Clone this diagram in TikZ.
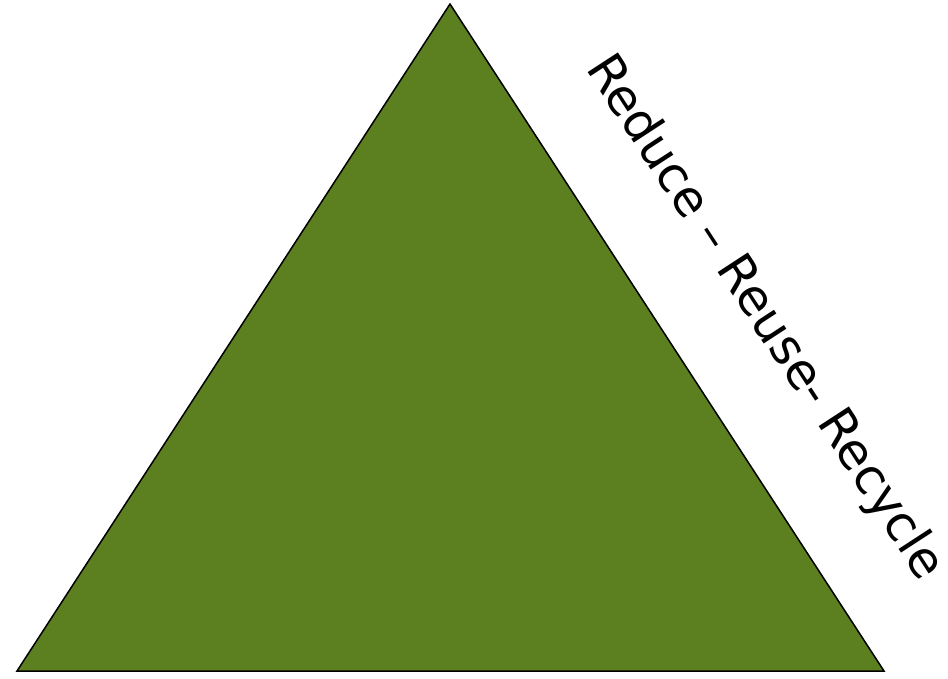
\documentclass[tikz,border=0pt]{standalone}
\usepackage{fontspec}
\setmainfont{DejaVu Sans}
\definecolor{leaf}{RGB}{92,127,31}
\begin{document}
\begin{tikzpicture}[x=1pt,y=-1pt]
\useasboundingbox (0,0) rectangle (948,678);
\coordinate (apex) at (450,4);
\coordinate (bl) at (17,671);
\coordinate (br) at (884,671);
\draw[fill=leaf,line width=1.5pt,line join=miter] (apex) -- (br) -- (bl) -- cycle;
\node[rotate=-56.9,font=\fontsize{49.5}{58}\selectfont,inner sep=0pt] (lbl) at (764,318) {Reduce – Reuse- Recycle};
\end{tikzpicture}
\end{document}
